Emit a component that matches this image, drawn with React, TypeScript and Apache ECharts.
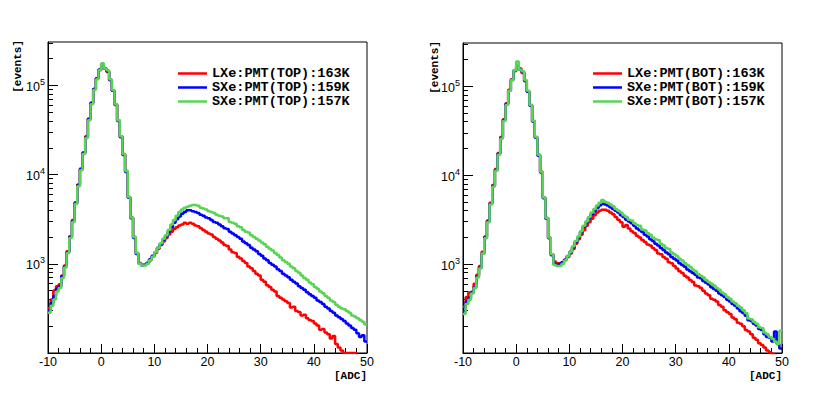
import React, { useEffect, useRef } from "react";
import * as echarts from "echarts";

// Histogram binning (bin low edges)
const BIN_START = -10;
const BIN_WIDTH = 0.5;
const X_MIN = -10;
const X_MAX = 50;
const Y_MIN = 100;
const Y_MAX = 307000;
const MAJOR_TICKS = [1000, 10000, 100000];
const MINOR_TICKS = [
  200, 300, 400, 500, 600, 700, 800, 900,
  2000, 3000, 4000, 5000, 6000, 7000, 8000, 9000,
  20000, 30000, 40000, 50000, 60000, 70000, 80000, 90000,
  200000, 300000,
];

const topNames = ["LXe:PMT(TOP):163K", "SXe:PMT(TOP):159K", "SXe:PMT(TOP):157K"];
const botNames = ["LXe:PMT(BOT):163K", "SXe:PMT(BOT):159K", "SXe:PMT(BOT):157K"];
const colors = ["#ff0000", "#0000ff", "#59d454"];

// Left panel (TOP)
const topLXe = [
  316, 398, 501, 562, 589, 741, 955, 1380, 2042, 3090,
  4898, 7762, 11750, 17780, 26900, 42660, 64570, 91200, 120200, 147900,
  166000, 154900, 141300, 114800, 87100, 61660, 40740, 26920, 16980, 10960,
  5623, 3311, 1995, 1318, 1023, 977, 977, 1023, 1096, 1202,
  1318, 1479, 1622, 1778, 1950, 2138, 2291, 2455, 2570, 2692,
  2754, 2884, 2818, 2884, 2818, 2692, 2630, 2512, 2399, 2291,
  2188, 2138, 1995, 1905, 1820, 1738, 1622, 1585, 1445, 1349,
  1318, 1202, 1148, 1072, 1023, 933, 891, 832, 776, 741,
  661, 631, 575, 550, 513, 490, 437, 417, 398, 380,
  363, 324, 331, 295, 288, 263, 269, 245, 234, 229,
  214, 204, 182, 186, 170, 162, 145, 155, 126, 115,
  107, 100, 100, 100, 100, 100, 90, 85, 80, 75,
];
const topSXe1 = [
  302, 363, 437, 525, 562, 724, 933, 1349, 1995, 3020,
  4786, 7586, 11480, 17380, 26300, 41690, 63100, 91200, 120200, 151400,
  173800, 154900, 144500, 114800, 87100, 60260, 39810, 26300, 16600, 10720,
  5495, 3236, 1950, 1288, 1000, 955, 977, 1023, 1122, 1230,
  1349, 1514, 1660, 1862, 2042, 2291, 2570, 2884, 3162, 3388,
  3631, 3802, 3981, 3981, 3890, 3802, 3715, 3548, 3467, 3311,
  3236, 3090, 2951, 2884, 2754, 2630, 2512, 2455, 2291, 2188,
  2089, 1995, 1905, 1778, 1698, 1622, 1514, 1445, 1380, 1288,
  1230, 1148, 1096, 1023, 977, 933, 871, 832, 776, 741,
  708, 661, 631, 603, 562, 537, 513, 479, 457, 437,
  417, 389, 372, 355, 331, 316, 295, 282, 263, 251,
  240, 229, 214, 204, 191, 182, 166, 151, 158, 135,
];
const topSXe2 = [
  282, 339, 398, 490, 537, 692, 912, 1318, 1950, 2951,
  4677, 7413, 11220, 16980, 25700, 40740, 61660, 89130, 117500, 147900,
  177800, 154900, 147900, 117500, 89130, 61660, 40740, 26920, 16980, 10960,
  5623, 3311, 1995, 1318, 1000, 955, 955, 1000, 1096, 1202,
  1349, 1514, 1698, 1905, 2089, 2399, 2754, 3090, 3467, 3802,
  4074, 4266, 4365, 4467, 4571, 4571, 4467, 4266, 4169, 4074,
  3890, 3802, 3715, 3548, 3467, 3388, 3236, 3236, 2951, 2884,
  2818, 2630, 2570, 2399, 2291, 2239, 2089, 1995, 1905, 1820,
  1738, 1660, 1549, 1479, 1413, 1318, 1259, 1175, 1096, 1047,
  1000, 933, 891, 832, 794, 741, 692, 661, 617, 589,
  550, 525, 490, 468, 437, 417, 389, 372, 347, 331,
  316, 309, 295, 282, 263, 257, 245, 234, 224, 209,
];

// Right panel (BOT)
const botLXe = [
  331, 427, 479, 490, 603, 759, 955, 1380, 2042, 3090,
  4898, 7762, 11750, 17780, 26900, 42660, 64570, 91200, 120200, 147900,
  166000, 158500, 141300, 114800, 87100, 61660, 40740, 26920, 16980, 10960,
  5623, 3311, 1995, 1288, 1072, 1023, 1023, 1047, 1122, 1202,
  1318, 1479, 1698, 1905, 2138, 2399, 2692, 2951, 3236, 3548,
  3802, 3981, 4074, 4074, 3981, 3802, 3631, 3388, 3162, 2951,
  2630, 2754, 2512, 2344, 2239, 2089, 1995, 1862, 1778, 1660,
  1622, 1514, 1445, 1318, 1288, 1202, 1148, 1047, 1023, 955,
  891, 832, 794, 741, 708, 661, 631, 575, 562, 537,
  501, 468, 447, 407, 398, 380, 347, 331, 302, 288,
  275, 251, 240, 219, 214, 200, 182, 174, 162, 148,
  141, 129, 123, 115, 107, 102, 98, 93, 89, 85,
];
const botSXe1 = [
  295, 380, 417, 479, 550, 724, 912, 1318, 1995, 3020,
  4786, 7586, 11480, 17380, 26300, 41690, 63100, 89130, 117500, 151400,
  169800, 154900, 144500, 114800, 87100, 60260, 39810, 26300, 16600, 10720,
  5495, 3236, 1950, 1259, 1000, 977, 1000, 1047, 1122, 1230,
  1380, 1549, 1778, 1995, 2291, 2630, 2951, 3311, 3631, 3981,
  4266, 4571, 4786, 4677, 4571, 4365, 4169, 3981, 3802, 3548,
  3388, 3162, 3020, 2884, 2692, 2512, 2399, 2291, 2138, 2042,
  1905, 1820, 1698, 1622, 1514, 1445, 1349, 1288, 1202, 1148,
  1096, 1023, 977, 933, 871, 832, 794, 759, 708, 692,
  646, 617, 589, 550, 525, 501, 468, 447, 427, 398,
  380, 355, 339, 316, 295, 282, 263, 234, 229, 214,
  204, 186, 182, 162, 151, 148, 135, 174, 126, 112,
];
const botSXe2 = [
  275, 355, 398, 468, 537, 708, 891, 1318, 1950, 2951,
  4677, 7413, 11220, 16980, 25700, 40740, 61660, 89130, 117500, 151400,
  190500, 154900, 147900, 117500, 89130, 61660, 40740, 26920, 16980, 10960,
  5623, 3311, 1995, 1288, 977, 955, 955, 1000, 1096, 1230,
  1380, 1585, 1820, 2042, 2344, 2692, 3020, 3388, 3802, 4169,
  4571, 4898, 5248, 5012, 4898, 4677, 4467, 4169, 3981, 3802,
  3548, 3388, 3162, 3090, 2884, 2754, 2692, 2455, 2399, 2239,
  2138, 1995, 1905, 1862, 1698, 1622, 1514, 1479, 1349, 1288,
  1230, 1148, 1096, 1023, 977, 933, 871, 832, 776, 741,
  708, 661, 631, 603, 575, 537, 513, 479, 457, 427,
  407, 380, 363, 339, 324, 302, 282, 245, 240, 224,
  214, 195, 191, 170, 162, 151, 145, 135, 126, 178,
];

const SANS = '"Liberation Sans", Arial, Helvetica, sans-serif';
const MONO = '"Liberation Mono", "Courier New", monospace';

function toSteps(values: number[]): number[][] {
  const pts = values.map((v, i) => [BIN_START + i * BIN_WIDTH, v]);
  pts.push([BIN_START + values.length * BIN_WIDTH, values[values.length - 1]]);
  return pts;
}

const panels = [
  { names: topNames, data: [topLXe, topSXe1, topSXe2], grid: { left: 48, top: 42, width: 319, height: 311 }, legendLeft: 173, title: { x: 18, y: 40 }, adcX: 367 },
  { names: botNames, data: [botLXe, botSXe1, botSXe2], grid: { left: 463, top: 43, width: 319, height: 310 }, legendLeft: 588, title: { x: 435, y: 41 }, adcX: 782 },
];

export default function App() {
  const ref = useRef<HTMLDivElement>(null);
  useEffect(() => {
    if (!ref.current) return;
    const chart = echarts.init(ref.current, null, { renderer: "svg" });
    const grids: any[] = [];
    const xAxes: any[] = [];
    const yAxes: any[] = [];
    const series: any[] = [];
    const legends: any[] = [];
    const graphics: any[] = [];
    panels.forEach((p, g) => {
      grids.push({ ...p.grid, show: true, borderColor: "#000", borderWidth: 1, backgroundColor: "transparent" });
      xAxes.push({
        type: "value", gridIndex: g, min: X_MIN, max: X_MAX, interval: 10,
        axisLine: { onZero: false, lineStyle: { color: "#000", width: 1 } },
        axisTick: { inside: true, length: 9, lineStyle: { color: "#000" } },
        minorTick: { show: true, splitNumber: 5, length: 5, lineStyle: { color: "#000" } },
        splitLine: { show: false },
        axisLabel: { color: "#000", fontFamily: SANS, fontSize: 12.5, margin: 2, showMinLabel: true, showMaxLabel: true },
      });
      yAxes.push({
        type: "log", logBase: 10, gridIndex: g, position: "left", min: Y_MIN, max: Y_MAX,
        axisLine: { show: true, onZero: false, lineStyle: { color: "#000", width: 1 } },
        axisTick: { inside: true, length: 10, customValues: MAJOR_TICKS, lineStyle: { color: "#000" } },
        splitLine: { show: false },
        axisLabel: {
          customValues: MAJOR_TICKS, margin: 3,
          formatter: (v: number) => `{b|10}{s|${Math.round(Math.log10(v))}}`,
          rich: {
            b: { fontFamily: SANS, fontSize: 12.5, color: "#000", verticalAlign: "bottom", lineHeight: 16 },
            s: { fontFamily: SANS, fontSize: 9, color: "#000", verticalAlign: "top", lineHeight: 6 },
          },
        },
      });
      yAxes.push({
        type: "log", logBase: 10, gridIndex: g, position: "left", min: Y_MIN, max: Y_MAX,
        axisLine: { show: false, onZero: false },
        axisTick: { inside: true, length: 5, customValues: MINOR_TICKS, lineStyle: { color: "#000" } },
        axisLabel: { show: false },
        splitLine: { show: false },
      });
      p.data.forEach((vals, k) => {
        series.push({
          type: "line", name: p.names[k], xAxisIndex: g, yAxisIndex: g * 2,
          data: toSteps(vals), step: "end", symbol: "none", showSymbol: false,
          lineStyle: { color: colors[k], width: 2.5 }, itemStyle: { color: colors[k] },
          clip: true, z: 2 + k,
        });
      });
      legends.push({
        orient: "vertical", left: p.legendLeft, top: 61.5, itemWidth: 29, itemHeight: 13.5, itemGap: 0,
        icon: "path://M0,0H58V5H0Z",
        selectedMode: false, data: p.names,
        textStyle: { fontFamily: MONO, fontWeight: "bold", fontSize: 13.5, color: "#000", lineHeight: 13.5 },
      });
      graphics.push({
        type: "text", x: p.adcX, y: 376,
        style: { text: "[ADC]", fontFamily: MONO, fontWeight: "bold", fontSize: 11, fill: "#000", align: "right", verticalAlign: "middle" },
      });
      graphics.push({
        type: "text", x: p.title.x, y: p.title.y, rotation: Math.PI / 2,
        style: { text: "[events]", fontFamily: MONO, fontWeight: "bold", fontSize: 11, fill: "#000", align: "right", verticalAlign: "middle" },
      });
    });
    chart.setOption({
      animation: false,
      backgroundColor: "#fff",
      grid: grids,
      xAxis: xAxes,
      yAxis: yAxes,
      legend: legends,
      series,
      graphic: graphics,
    });
    return () => chart.dispose();
  }, []);
  return <div ref={ref} style={{ position: "absolute", left: 0, top: 0, width: 830, height: 397 }} />;
}
